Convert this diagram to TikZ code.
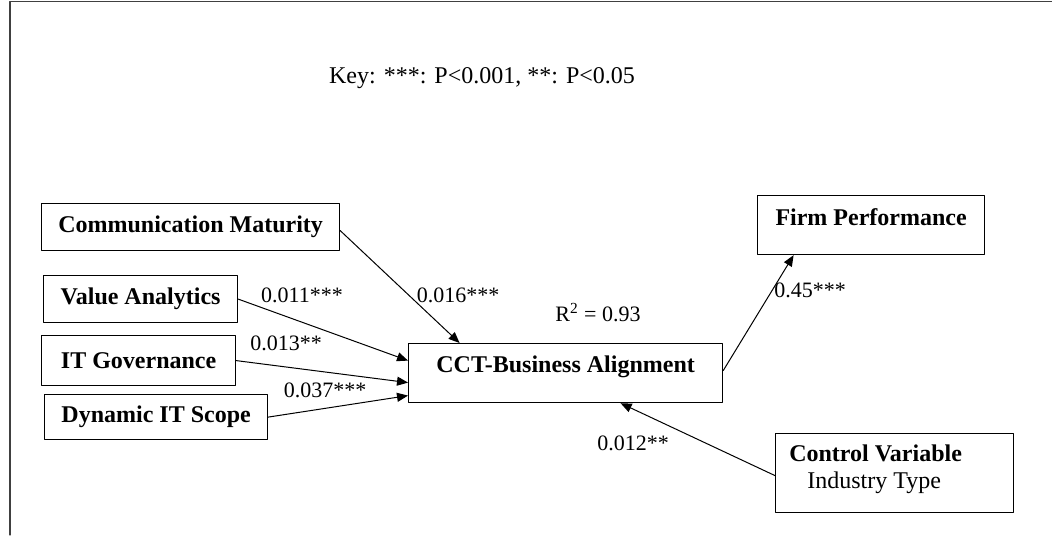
\documentclass[tikz,border=0pt]{standalone}
\usepackage{fontspec}
\setmainfont{Liberation Serif}
\usepackage{tikz}
\usetikzlibrary{arrows.meta}

\tikzset{box/.style={draw,line width=0.6pt,rectangle,anchor=north west,inner sep=0pt,font=\fontsize{12}{13.5}\selectfont\bfseries},
coef/.style={font=\fontsize{11}{13}\selectfont}}

\begin{document}
\begin{tikzpicture}[line cap=round,line join=round,>={Triangle[length=5.5pt,width=4.5pt]},x=0.5pt,y=-0.5pt]

\useasboundingbox (0,0) rectangle (1052,535);
\draw[color=black!75,line width=0.6pt] (10,535)-- (10,1.5)-- (1052,1.5);

\node[coef,font=\fontsize{12}{14}\selectfont] (key) at (482,78) {Key: ***: P<0.001, **: P<0.05};

% boxes
\node[box,minimum width=149pt,minimum height=23.5pt] (comm) at (41,203) {Communication Maturity};
\node[box,minimum width=97pt,minimum height=23.5pt] (value) at (43,275) {Value Analytics};
\node[box,minimum width=97pt,minimum height=25pt] (itgov) at (41,335) {IT Governance};
\node[box,minimum width=111.5pt,minimum height=22.5pt] (scope) at (44,394) {Dynamic IT Scope};
\node[box,minimum width=157pt,minimum height=29.5pt,text height=8pt,text depth=8.5pt] (cct) at (408,343) {CCT-Business Alignment};
\node[box,minimum width=113.5pt,minimum height=29.5pt,text height=8pt,text depth=7.5pt] (firm) at (757,195) {Firm Performance};
\node[box,minimum width=119pt,minimum height=39.5pt,align=left,text depth=6pt] (control) at (775,433) {Control Variable\rule{19pt}{0pt}\\\hspace{9pt}\mdseries Industry Type};

% paths
\draw[line width=0.5pt,->] ([yshift=-1.75pt]comm.east)-- ([xshift=-53pt]cct.north);
\draw[line width=0.5pt,->] (value.east)-- ([yshift=6.25pt]cct.west);
\draw[line width=0.5pt,->] (itgov.east)-- ([yshift=-4.75pt]cct.west);
\draw[line width=0.5pt,->] (scope.east)-- ([yshift=-11.25pt]cct.west);
\draw[line width=0.5pt,->] ([yshift=1.25pt]cct.east)-- ([xshift=-38.75pt]firm.south);
\draw[line width=0.5pt,->] ([yshift=-1.25pt]control.west)-- ([xshift=27.5pt]cct.south);

% coefficients
\node[coef] (c011) at (302,295) {0.011***};
\node[coef] (c016) at (458,295) {0.016***};
\node[coef] (c013) at (286,343) {0.013**};
\node[coef] (c037) at (325,390) {0.037***};
\node[coef] (c45) at (810,290) {0.45***};
\node[coef] (c012) at (633,443) {0.012**};
\node[coef] (rsq) at (598,313) {R\textsuperscript{2} = 0.93};
\end{tikzpicture}
\end{document}
